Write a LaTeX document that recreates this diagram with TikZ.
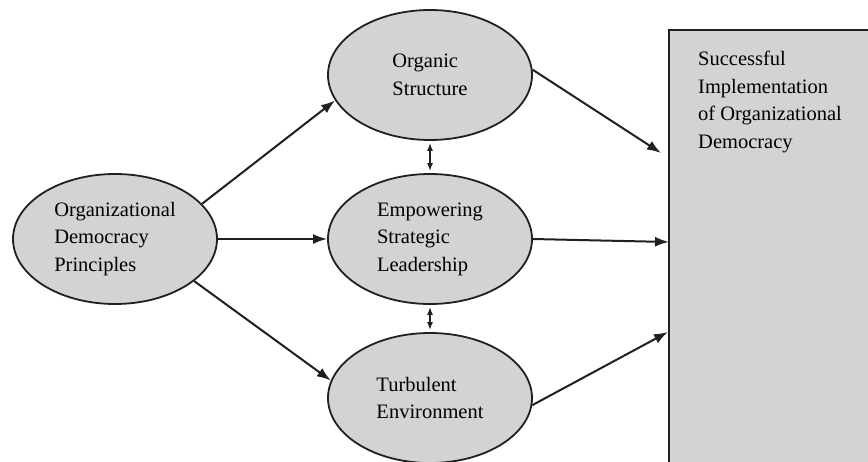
\documentclass[tikz,border=0pt]{standalone}
\usepackage{fontspec}
\setmainfont{Liberation Serif}
\usetikzlibrary{shapes.geometric,arrows.meta}
\definecolor{boxgray}{RGB}{211,211,213}
\definecolor{inkblack}{RGB}{35,31,32}
\begin{document}
\begin{tikzpicture}[x=1pt,y=-1pt,
    factor/.style={ellipse, draw=inkblack, line width=1.8pt, fill=boxgray,
      minimum width=204pt, minimum height=130pt, inner sep=0pt, align=left,
      font={\fontsize{20.5}{27.5}\selectfont}},
    link/.style={draw=inkblack, line width=2pt, -{Latex[length=14pt,width=10pt]}},
    mutual/.style={draw=inkblack, line width=1.3pt, {Latex[length=8pt,width=6pt]}-{Latex[length=8pt,width=6pt]}}]
    \useasboundingbox (0,0) rectangle (868,461);
    \clip (0,0) rectangle (868,461);

    % Outcome box, running off the page
    \draw[draw=inkblack, line width=2pt, fill=boxgray] (669,30) rectangle (890,490);
    \node[anchor=north west, inner sep=0pt, align=left,
      font={\fontsize{20.5}{27.5}\selectfont}] (outcome) at (698,51)
      {Successful\\Implementation\\of Organizational\\Democracy};
    \coordinate (inTop) at (661,153);
    \coordinate (inMid) at (669,242);
    \coordinate (inLow) at (668,332);

    % Factors
    \node[factor] (principles) at (115,239) {Organizational\\Democracy\\Principles};
    \node[factor] (organic) at (430,75) {Organic\\Structure};
    \node[factor] (leader) at (430,239) {Empowering\\Strategic\\Leadership};
    \node[factor] (turbulent) at (430,398) {Turbulent\\Environment};

    % Links
    \draw[link] (principles.22) -- (organic.195);
    \draw[link] (principles.east) -- (leader.west);
    \draw[link] (principles.-28) -- (turbulent.170);
    \draw[link] (organic.3) -- (inTop);
    \draw[link] (leader.east) -- (inMid);
    \draw[link] (turbulent.-4) -- (inLow);
    \draw[mutual] ([yshift=-2pt]organic.south) -- ([yshift=2pt]leader.north);
    \draw[mutual] ([yshift=-2pt]leader.south) -- ([yshift=2pt]turbulent.north);
\end{tikzpicture}
\end{document}
